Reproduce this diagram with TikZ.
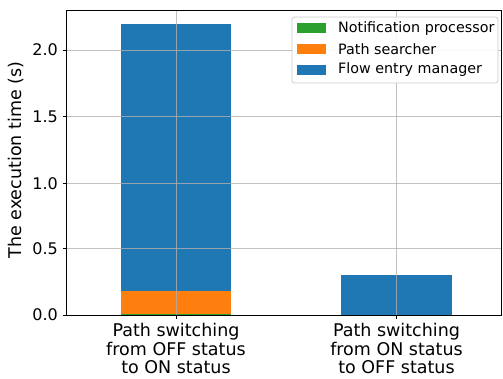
\documentclass[tikz,border=0pt]{standalone}
\usepackage{fontspec}
\setmainfont{DejaVu Sans}
\definecolor{tabblue}{HTML}{1F77B4}
\definecolor{taborange}{HTML}{FF7F0E}
\definecolor{tabgreen}{HTML}{2CA02C}
\definecolor{gridgray}{HTML}{B0B0B0}
\definecolor{legedge}{HTML}{CCCCCC}
\tikzset{
  bar/.style={draw=none},
  gridline/.style={draw=gridgray, line width=0.8pt, draw opacity=0.8},
  spine/.style={draw=black, line width=0.8pt},
  tickmark/.style={draw=black, line width=0.8pt},
  ticklabel/.style={font=\fontsize{16}{18}\selectfont, inner sep=0pt},
  axlabel/.style={font=\fontsize{17.5}{18.5}\selectfont, inner sep=0pt, align=center},
  legtext/.style={font=\fontsize{14.3}{17}\selectfont, inner sep=0pt, anchor=west},
  legpatch/.style={draw=none, minimum width=29pt, minimum height=10pt, inner sep=0pt},
}
\begin{document}
\begin{tikzpicture}[x=1pt,y=-1pt]
\useasboundingbox (0,0) rectangle (503,379);
% bars: y = 315 - 132.5 v
\fill[tabgreen] (121,315) rectangle (231,313.5);
\fill[taborange] (121,313.5) rectangle (231,291);
\fill[tabblue] (121,291) rectangle (231,24);
\fill[tabblue] (341,315) rectangle (452,274.7);
% grid
\foreach \yy in {50,116.75,183.25,248.75} \draw[gridline] (66,\yy) -- (501,\yy);
\foreach \xx in {176,396.5} \draw[gridline] (\xx,10) -- (\xx,315);
% spines
\draw[spine] (66,10) rectangle (501,315);
% y ticks
\foreach \yy/\lab in {315/0.0,248.75/0.5,183.25/1.0,116.75/1.5,50/2.0}{
  \draw[tickmark] (62.5,\yy) -- (66,\yy);
  \node[ticklabel, anchor=east] (yt\lab) at (58,\yy) {\lab};
}
% x ticks
\draw[tickmark] (176,315) -- (176,318.5);
\draw[tickmark] (396.5,315) -- (396.5,318.5);
\node[axlabel, anchor=north] (xl1) at (176,323.3) {Path switching\\from OFF status\\to ON status};
\node[axlabel, anchor=north] (xl2) at (396.5,323.3) {Path switching\\from ON status\\to OFF status};
% y label
\node[axlabel, rotate=90] (ylab) at (16.5,160) {The execution time (s)};
% legend
\draw[draw=legedge, fill=white, fill opacity=0.9, rounded corners=2.5pt, line width=0.8pt] (292,17) rectangle (498,83);
\node[legpatch, fill=tabgreen] (p1) at (311.5,28.5) {};
\node[legpatch, fill=taborange] (p2) at (311.5,49.2) {};
\node[legpatch, fill=tabblue] (p3) at (311.5,70) {};
\node[legtext] (l1) at (338,28.5) {Notification processor};
\node[legtext] (l2) at (338,49.2) {Path searcher};
\node[legtext] (l3) at (338,70) {Flow entry manager};
\end{tikzpicture}
\end{document}
